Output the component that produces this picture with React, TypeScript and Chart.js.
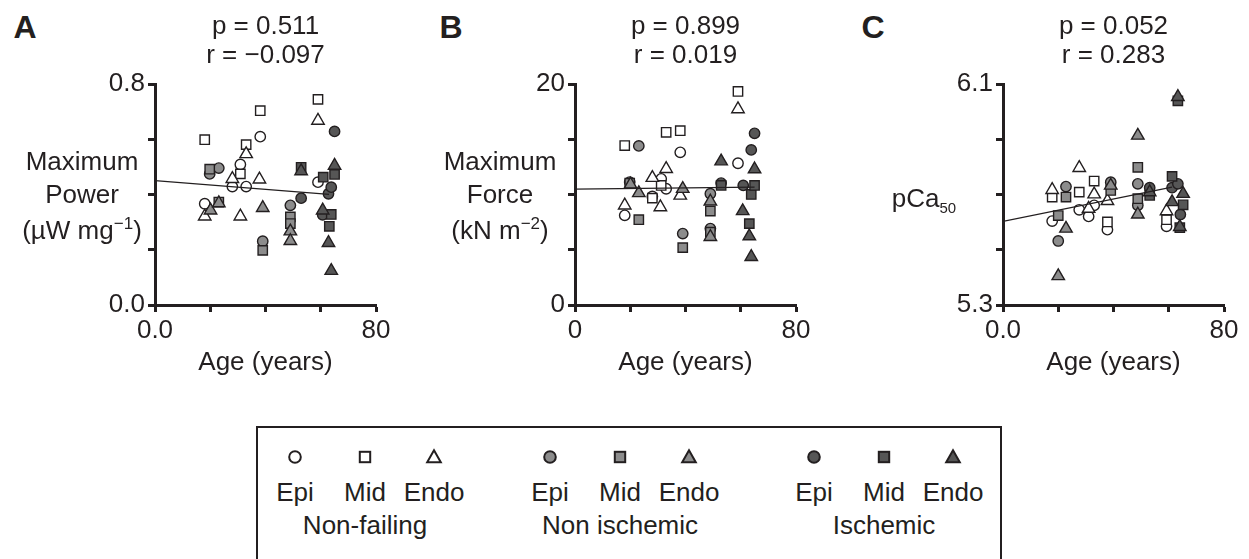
import React, { useEffect, useRef } from "react";
import { Chart, registerables } from "chart.js";

Chart.register(...registerables);

const FONT = "'Liberation Sans', Arial, Helvetica, sans-serif";
const INK = "#231f20";
const WHITE = "#ffffff";
const MID_GRAY = "#8c8c8c";
const DARK_GRAY = "#565656";

type Pt = [number, number];

// ---------- Panel A: Maximum Power (µW mg-1) vs Age ----------
const powerNfEpi: Pt[] = [[18.0, 0.367], [28.0, 0.429], [30.9, 0.509], [33.0, 0.429], [38.1, 0.61], [59.0, 0.445]];
const powerNfMid: Pt[] = [[18.0, 0.599], [30.9, 0.475], [33.0, 0.581], [38.1, 0.704], [59.0, 0.745]];
const powerNfEndo: Pt[] = [[18.0, 0.321], [28.0, 0.457], [30.9, 0.321], [33.0, 0.547], [37.8, 0.455], [59.0, 0.668]];
const powerNiEpi: Pt[] = [[19.8, 0.475], [23.1, 0.496], [39.0, 0.231], [49.0, 0.361]];
const powerNiMid: Pt[] = [[19.8, 0.492], [23.1, 0.373], [39.0, 0.198], [49.0, 0.319], [49.0, 0.295]];
const powerNiEndo: Pt[] = [[20.1, 0.343], [23.1, 0.369], [39.0, 0.352], [49.0, 0.267], [49.0, 0.232]];
const powerIsEpi: Pt[] = [[52.9, 0.387], [60.7, 0.327], [62.8, 0.403], [63.8, 0.427], [65.0, 0.629]];
const powerIsMid: Pt[] = [[52.9, 0.499], [60.9, 0.463], [63.1, 0.285], [63.8, 0.328], [65.0, 0.473]];
const powerIsEndo: Pt[] = [[52.9, 0.485], [60.7, 0.343], [62.8, 0.225], [63.8, 0.124], [65.0, 0.505]];
const powerFit: Pt[] = [[0, 0.451], [63, 0.401]];

// ---------- Panel B: Maximum Force (kN m-2) vs Age ----------
const forceNfEpi: Pt[] = [[18.0, 8.12], [28.0, 9.83], [31.2, 11.43], [33.0, 10.53], [38.1, 13.83], [59.0, 12.84]];
const forceNfMid: Pt[] = [[18.0, 14.44], [28.0, 9.68], [31.2, 10.83], [33.0, 15.64], [38.1, 15.79], [59.0, 19.34]];
const forceNfEndo: Pt[] = [[18.0, 9.02], [28.0, 11.52], [30.9, 8.87], [33.0, 12.33], [38.1, 9.92], [59.0, 17.74]];
const forceNiEpi: Pt[] = [[19.8, 11.13], [23.1, 14.41], [39.0, 6.47], [49.0, 10.08], [49.0, 6.92]];
const forceNiMid: Pt[] = [[19.8, 11.04], [23.1, 7.73], [39.0, 5.2], [49.0, 8.51], [49.0, 6.6]];
const forceNiEndo: Pt[] = [[20.1, 10.92], [23.1, 10.14], [39.0, 10.53], [49.0, 9.38], [49.0, 6.17]];
const forceIsEpi: Pt[] = [[52.9, 11.04], [60.9, 10.83], [63.8, 14.05], [65.0, 15.55]];
const forceIsMid: Pt[] = [[52.9, 10.83], [63.1, 7.37], [63.8, 10.01], [65.0, 10.83]];
const forceIsEndo: Pt[] = [[52.9, 13.02], [60.7, 8.51], [63.1, 6.23], [63.8, 4.36], [65.0, 12.3]];
const forceFit: Pt[] = [[0, 10.5], [65, 10.68]];

// ---------- Panel C: pCa50 vs Age ----------
const pcaNfEpi: Pt[] = [[17.8, 5.604], [27.6, 5.645], [31.0, 5.621], [33.0, 5.661], [37.8, 5.573], [59.2, 5.585]];
const pcaNfMid: Pt[] = [[17.8, 5.691], [27.6, 5.709], [33.0, 5.749], [37.8, 5.601], [59.2, 5.609]];
const pcaNfEndo: Pt[] = [[17.8, 5.717], [27.6, 5.797], [31.0, 5.649], [33.0, 5.701], [37.8, 5.677], [59.2, 5.64]];
const pcaNiEpi: Pt[] = [[20.0, 5.532], [22.8, 5.729], [39.0, 5.745], [48.8, 5.739], [48.8, 5.661]];
const pcaNiMid: Pt[] = [[20.0, 5.624], [22.8, 5.691], [39.0, 5.715], [48.8, 5.799], [48.8, 5.685]];
const pcaNiEndo: Pt[] = [[20.0, 5.405], [22.8, 5.577], [39.0, 5.733], [48.8, 5.914], [48.8, 5.628]];
const pcaIsEpi: Pt[] = [[53.1, 5.725], [61.2, 5.725], [63.3, 5.739], [64.2, 5.628]];
const pcaIsMid: Pt[] = [[53.1, 5.697], [61.2, 5.766], [63.3, 6.04], [64.0, 5.58], [65.2, 5.663]];
const pcaIsEndo: Pt[] = [[53.1, 5.709], [61.2, 5.673], [63.3, 6.054], [64.0, 5.583], [65.2, 5.703]];
const pcaFit: Pt[] = [[0, 5.603], [61.2, 5.727]];

// ---------- Labels ----------
const groupNames = ["Non-failing", "Non ischemic", "Ischemic"];
const layerNames = ["Epi", "Mid", "Endo"];
const statsA = ["p = 0.511", "r = \u22120.097"];
const statsB = ["p = 0.899", "r = 0.019"];
const statsC = ["p = 0.052", "r = 0.283"];
const xTickLabelsA = ["0.0", "80"];
const xTickLabelsB = ["0", "80"];
const xTickLabelsC = ["0.0", "80"];
const yTickLabelsA = ["0.0", "0.8"];
const yTickLabelsB = ["0", "20"];
const yTickLabelsC = ["5.3", "6.1"];
const xTitle = "Age (years)";

const groupFills = [WHITE, MID_GRAY, DARK_GRAY];
const layerShapes = ["circle", "rect", "triangle"];
const layerRadius = [5.2, 6.6, 7.2];

type PanelSpec = {
  left: number;
  width: number;
  padRight: number;
  series: Pt[][];
  fit: Pt[];
  yMin: number;
  yMax: number;
  yStep: number;
  yLabels: string[];
  xLabels: string[];
  stats: string[];
};

const panels: PanelSpec[] = [
  {
    left: 95, width: 307, padRight: 26,
    series: [powerNfEpi, powerNfMid, powerNfEndo, powerNiEpi, powerNiMid, powerNiEndo, powerIsEpi, powerIsMid, powerIsEndo],
    fit: powerFit, yMin: 0, yMax: 0.8, yStep: 0.2, yLabels: yTickLabelsA, xLabels: xTickLabelsA, stats: statsA,
  },
  {
    left: 515, width: 307, padRight: 26,
    series: [forceNfEpi, forceNfMid, forceNfEndo, forceNiEpi, forceNiMid, forceNiEndo, forceIsEpi, forceIsMid, forceIsEndo],
    fit: forceFit, yMin: 0, yMax: 20, yStep: 5, yLabels: yTickLabelsB, xLabels: xTickLabelsB, stats: statsB,
  },
  {
    left: 943, width: 306, padRight: 25,
    series: [pcaNfEpi, pcaNfMid, pcaNfEndo, pcaNiEpi, pcaNiMid, pcaNiEndo, pcaIsEpi, pcaIsMid, pcaIsEndo],
    fit: pcaFit, yMin: 5.3, yMax: 6.1, yStep: 0.2, yLabels: yTickLabelsC, xLabels: xTickLabelsC, stats: statsC,
  },
];

const CANVAS_H = 400;
const Y_AXIS_W = 60;
const X_AXIS_H = 95;
const FS = 26;

function Panel({ spec }: { spec: PanelSpec }) {
  const ref = useRef<HTMLCanvasElement | null>(null);
  useEffect(() => {
    if (!ref.current) return;
    const datasets: any[] = [
      {
        type: "line",
        data: spec.fit.map(([x, y]) => ({ x, y })),
        borderColor: INK,
        borderWidth: 1.2,
        pointRadius: 0,
        fill: false,
        order: 0,
      },
    ];
    spec.series.forEach((pts, i) => {
      const g = Math.floor(i / 3);
      const l = i % 3;
      datasets.push({
        type: "scatter",
        label: `${groupNames[g]} ${layerNames[l]}`,
        data: pts.map(([x, y]) => ({ x, y })),
        pointStyle: layerShapes[l],
        pointRadius: layerRadius[l],
        backgroundColor: groupFills[g],
        borderColor: INK,
        borderWidth: 1.4,
        order: 100 - i,
      });
    });
    const tickFont = { family: FONT, size: FS };
    const chart = new Chart(ref.current, {
      type: "scatter",
      data: { datasets },
      options: {
        animation: false,
        responsive: false,
        events: [],
        layout: { padding: { left: 0, right: spec.padRight, top: 0, bottom: 0 } },
        plugins: {
          legend: { display: false },
          tooltip: { enabled: false },
          title: {
            display: true,
            fullSize: false,
            text: spec.stats,
            color: INK,
            font: { family: FONT, size: FS, weight: "normal", lineHeight: 1.1 },
            padding: { top: 13, bottom: 14 },
          },
        },
        scales: {
          x: {
            type: "linear",
            min: 0,
            max: 80,
            afterFit: (s: any) => { s.height = X_AXIS_H; },
            ticks: {
              stepSize: 20,
              autoSkip: false,
              maxRotation: 0,
              padding: 3,
              color: INK,
              font: tickFont,
              callback: (_v: any, idx: number, ticks: any[]) =>
                idx === 0 ? spec.xLabels[0] : idx === ticks.length - 1 ? spec.xLabels[1] : "",
            },
            grid: { drawOnChartArea: false, drawTicks: true, tickLength: 7, tickWidth: 3, tickColor: INK },
            border: { display: true, width: 3, color: INK },
            title: {
              display: true,
              text: xTitle,
              color: INK,
              font: { family: FONT, size: FS },
              padding: { top: 0, bottom: 22 },
            },
          },
          y: {
            type: "linear",
            min: spec.yMin,
            max: spec.yMax,
            afterFit: (s: any) => { s.width = Y_AXIS_W; },
            ticks: {
              stepSize: spec.yStep,
              autoSkip: false,
              padding: 3,
              color: INK,
              font: tickFont,
              callback: (_v: any, idx: number, ticks: any[]) =>
                idx === 0 ? spec.yLabels[0] : idx === ticks.length - 1 ? spec.yLabels[1] : "",
            },
            grid: { drawOnChartArea: false, drawTicks: true, tickLength: 7, tickWidth: 3, tickColor: INK },
            border: { display: true, width: 3, color: INK },
          },
        },
      } as any,
    });
    return () => chart.destroy();
  }, [spec]);
  return (
    <canvas
      ref={ref}
      width={spec.width}
      height={CANVAS_H}
      style={{ position: "absolute", left: spec.left, top: 0, width: spec.width, height: CANVAS_H }}
    />
  );
}

function Txt({ x, y, size = FS, bold = false, children }: any) {
  return (
    <div
      style={{
        position: "absolute",
        left: x,
        top: y,
        transform: "translate(-50%, -50%)",
        fontSize: size,
        lineHeight: 1,
        fontWeight: bold ? 700 : 400,
        whiteSpace: "nowrap",
      }}
    >
      {children}
    </div>
  );
}

const supStyle: React.CSSProperties = { fontSize: 17, position: "relative", top: -10, verticalAlign: "baseline" };
const subStyle: React.CSSProperties = { fontSize: 15, position: "relative", top: 6, verticalAlign: "baseline" };

function Marker({ shape, fill }: { shape: string; fill: string }) {
  return (
    <svg width={18} height={18} viewBox="-9 -9 18 18" style={{ display: "block" }}>
      {shape === "circle" && <circle cx={0} cy={0} r={5.8} fill={fill} stroke={INK} strokeWidth={2} />}
      {shape === "rect" && <rect x={-5.2} y={-5.2} width={10.4} height={10.4} fill={fill} stroke={INK} strokeWidth={2} />}
      {shape === "triangle" && (
        <polygon points="0,-6.8 6.8,5.2 -6.8,5.2" fill={fill} stroke={INK} strokeWidth={2} strokeLinejoin="miter" />
      )}
    </svg>
  );
}

const legendCenters = [365, 620, 884];
const legendOffsets = [-70, 0, 69];

export default function App() {
  return (
    <div
      style={{
        position: "absolute",
        left: 0,
        top: 0,
        width: 1249,
        height: 559,
        overflow: "hidden",
        background: "#fff",
        fontFamily: FONT,
        color: INK,
      }}
    >
      {panels.map((p, i) => (
        <Panel key={i} spec={p} />
      ))}

      <Txt x={25} y={27} size={32} bold>A</Txt>
      <Txt x={451} y={27} size={32} bold>B</Txt>
      <Txt x={873} y={27} size={32} bold>C</Txt>

      <Txt x={82} y={161}>Maximum</Txt>
      <Txt x={82} y={194}>Power</Txt>
      <Txt x={82} y={230}>
        (µW mg<span style={supStyle}>{"\u22121"}</span>)
      </Txt>

      <Txt x={500} y={161}>Maximum</Txt>
      <Txt x={500} y={194}>Force</Txt>
      <Txt x={500} y={230}>
        (kN m<span style={supStyle}>{"\u22122"}</span>)
      </Txt>

      <Txt x={924} y={198}>
        pCa<span style={subStyle}>50</span>
      </Txt>

      <div
        style={{
          position: "absolute",
          left: 256,
          top: 426,
          width: 746,
          height: 160,
          border: `2px solid ${INK}`,
          boxSizing: "border-box",
        }}
      />
      {groupNames.map((g, gi) => (
        <React.Fragment key={g}>
          {layerNames.map((l, li) => (
            <React.Fragment key={l}>
              <div
                style={{
                  position: "absolute",
                  left: legendCenters[gi] + legendOffsets[li] - 9,
                  top: 457 - 9,
                }}
              >
                <Marker shape={layerShapes[li]} fill={groupFills[gi]} />
              </div>
              <Txt x={legendCenters[gi] + legendOffsets[li]} y={492}>{l}</Txt>
            </React.Fragment>
          ))}
          <Txt x={legendCenters[gi]} y={525}>{g}</Txt>
        </React.Fragment>
      ))}
    </div>
  );
}
